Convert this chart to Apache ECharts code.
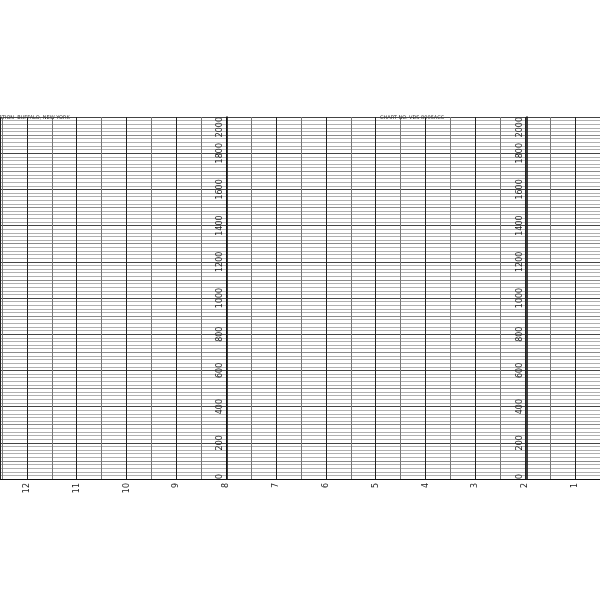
<!DOCTYPE html>
<html>
<head>
<meta charset="utf-8">
<script src="https://cdn.jsdelivr.net/npm/echarts@6/dist/echarts.min.js"></script>
<style>html,body{margin:0;padding:0;background:#fff}#c{width:600px;height:600px}</style>
</head>
<body>
<div id="c"></div>
<script>
const stationText = 'STATION  BUFFALO, NEW YORK';
const chartNoText = 'CHART NO. VDS 8005ACC';
const hourLabels = [12, 11, 10, 9, 8, 7, 6, 5, 4, 3, 2, 1];
const valueLabels = [0, 200, 400, 600, 800, 1000, 1200, 1400, 1600, 1800, 2000];
const valueMin = 0, valueMax = 2000;
const hourMin = 0.5, hourMax = 12.54;

const chart = echarts.init(document.getElementById('c'), null, {renderer: 'canvas'});

function yAxisDef(offset, showSplit) {
  return {
    type: 'value', min: valueMin, max: valueMax, interval: 100,
    position: 'left', offset: offset,
    axisLine: {show: true, onZero: false, lineStyle: {color: '#111', width: 1.6}},
    axisTick: {show: false},
    axisLabel: {
      rotate: 90, fontSize: 8, margin: 3, color: '#222', fontFamily: 'DejaVu Sans',
      alignMinLabel: 'left', alignMaxLabel: 'right',
      formatter: v => valueLabels.includes(v) ? String(v) : ''
    },
    splitLine: {show: showSplit, lineStyle: {color: ['#444', '#8a8a8a'], width: 1}},
    minorTick: {show: false, splitNumber: 5},
    minorSplitLine: {show: showSplit, lineStyle: {color: '#b0b0b0', width: 1}}
  };
}

chart.setOption({
  animation: false,
  backgroundColor: '#fff',
  title: [
    {text: stationText, left: -12, top: 110, textStyle: {fontSize: 5, fontWeight: 'normal', color: '#333', fontFamily: 'DejaVu Sans'}},
    {text: chartNoText, left: 375, top: 110, textStyle: {fontSize: 5, fontWeight: 'normal', color: '#333', fontFamily: 'DejaVu Sans'}}
  ],
  grid: {left: 0, width: 602, top: 117, bottom: 121, containLabel: false},
  xAxis: {
    type: 'value', inverse: true, min: hourMin, max: hourMax, interval: 0.5,
    axisLine: {show: true, lineStyle: {color: '#111', width: 1}},
    axisTick: {show: false},
    axisLabel: {
      rotate: 90, fontSize: 8, margin: 4, color: '#222', fontFamily: 'DejaVu Sans',
      showMinLabel: false, showMaxLabel: false,
      formatter: v => hourLabels.includes(v) ? String(v) : ''
    },
    splitLine: {show: true, lineStyle: {color: ['#777', '#222'], width: 1}}
  },
  yAxis: [yAxisDef(-227, true), yAxisDef(-527, false)],
  series: [{type: 'line', data: [], xAxisIndex: 0, yAxisIndex: 0}]
});
</script>
</body>
</html>
